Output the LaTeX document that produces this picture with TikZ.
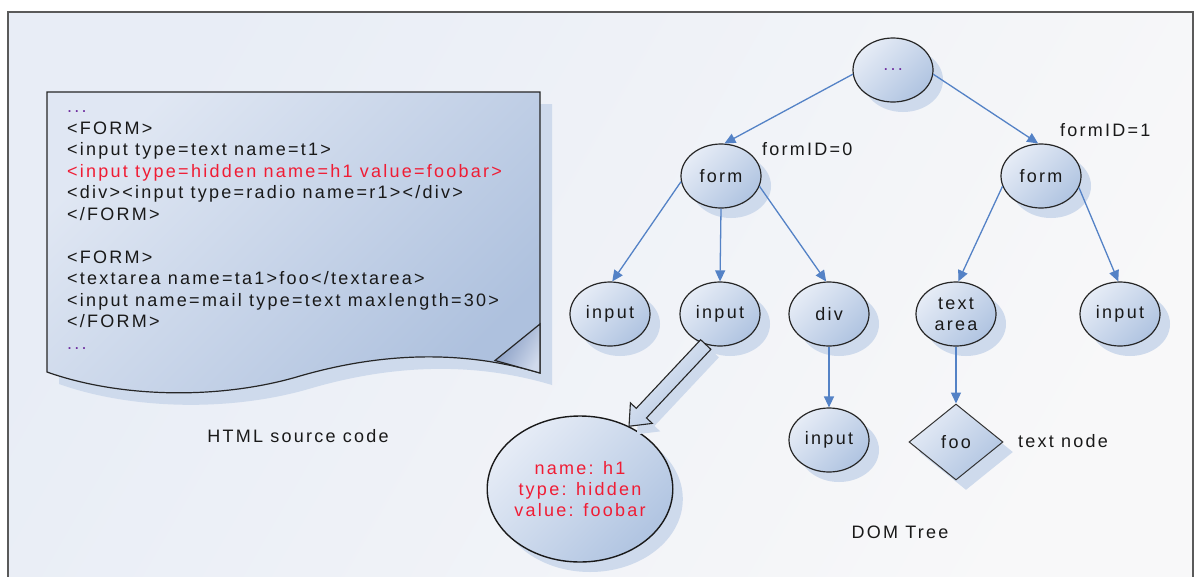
\documentclass[tikz,border=0pt]{standalone}
\usepackage{fontspec}
\setmainfont{Liberation Sans}[LetterSpace=12.5]
\usetikzlibrary{shapes.geometric,arrows.meta,shadows,calc}
\definecolor{bgA}{RGB}{232,237,246}
\definecolor{bgB}{RGB}{248,248,249}
\definecolor{framec}{RGB}{90,90,90}
\definecolor{nodeA}{RGB}{230,236,246}
\definecolor{nodeB}{RGB}{176,196,225}
\definecolor{docA}{RGB}{224,231,243}
\definecolor{docB}{RGB}{174,193,222}
\definecolor{foldA}{RGB}{125,148,190}
\definecolor{foldB}{RGB}{208,218,236}
\definecolor{shadowc}{RGB}{206,218,236}
\definecolor{arrowc}{RGB}{84,130,198}
\definecolor{redc}{RGB}{240,28,52}
\definecolor{dotc}{RGB}{112,48,160}
\definecolor{textc}{RGB}{25,25,25}
\begin{document}
\begin{tikzpicture}[x=1pt,y=-1pt,
  font=\fontsize{18}{21}\selectfont,
  softshadow/.style={drop shadow={shadow xshift=10pt,shadow yshift=-10pt,fill=shadowc,opacity=1}},
  treenode/.style={ellipse,draw=black!85,line width=1.2pt,minimum width=80pt,minimum height=64pt,
    inner sep=0pt,top color=nodeA,bottom color=nodeB,shading angle=45,softshadow,
    align=center,text=textc},
  textdiamond/.style={diamond,draw=black!80,line width=1pt,minimum width=94pt,minimum height=76pt,
    inner sep=0pt,top color=nodeA,bottom color=nodeB,shading angle=45,softshadow,text=textc},
  bignode/.style={ellipse,draw=black!90,line width=1.4pt,minimum width=184pt,minimum height=146pt,
    inner sep=0pt,top color=nodeA,bottom color=nodeB,shading angle=45,softshadow,
    align=center,text=redc},
  treearrow/.style={draw=arrowc,line width=1.3pt,-{Triangle[length=11pt,width=10pt]}},
  codeline/.style={anchor=base west,inner sep=0pt,text=textc},
  lbl/.style={inner sep=0pt,text=textc},
]
\useasboundingbox (0,0) rectangle (1200,576);
\fill[white] (0,0) rectangle (1200,576);
% frame
\draw[draw=framec,line width=1.6pt,top color=bgA,bottom color=bgB,shading angle=60]
  (8,12) rectangle (1193,600);

% document
\path[draw=black!85,line width=1.2pt,top color=docA,bottom color=docB,shading angle=45,
      drop shadow={shadow xshift=12pt,shadow yshift=-12pt,fill=shadowc,opacity=1}]
  (47,92) -- (540,92) -- (540,373)
  .. controls (470,352) and (390,350) .. (300,376)
  .. controls (220,400) and (120,398) .. (47,372) -- cycle;
\path[draw=black!85,line width=1.2pt,left color=foldA,right color=foldB,shading angle=60]
  (540,324) -- (495,360.5) -- (540,373) -- cycle;

\node[codeline,text=dotc] (c0) at (67,112.5) {...};
\node[codeline] (c1) at (67,134) {<FORM>};
\node[codeline] (c2) at (67,155.5) {<input type=text name=t1>};
\node[codeline,text=redc] (c3) at (67,177) {<input type=hidden name=h1 value=foobar>};
\node[codeline] (c4) at (67,198.5) {<div><input type=radio name=r1></div>};
\node[codeline] (c5) at (67,220) {</FORM>};
\node[codeline] (c6) at (67,263) {<FORM>};
\node[codeline] (c7) at (67,284.5) {<textarea name=ta1>foo</textarea>};
\node[codeline] (c8) at (67,306) {<input name=mail type=text maxlength=30>};
\node[codeline] (c9) at (67,327.5) {</FORM>};
\node[codeline,text=dotc] (c10) at (67,349) {...};

\node[lbl] (src) at (298,436) {HTML source code};

% tree
\node[treenode,text=dotc] (root) at (893,70) {...};
\node[treenode] (formL) at (721,176) {form};
\node[treenode] (formR) at (1041,176) {form};
\node[treenode] (in1) at (610,314) {input};
\node[treenode] (in2) at (720,314) {input};
\node[treenode] (div) at (829,314) {div};
\node[treenode] (ta) at (956,314) {text\\area};
\node[treenode] (in5) at (1120,314) {input};
\node[treenode] (in6) at (829,440) {input};
\node[textdiamond] (foo) at (956,442) {foo};
\node[bignode] (big) at (580,489) {name: h1\\type: hidden\\value: foobar};

\draw[treearrow] (root.186) -- (formL.84);
\draw[treearrow] (root.354) -- (formR.95);
\draw[treearrow] (formL.188) -- (in1.86);
\draw[treearrow] (formL.south) -- (in2.north);
\draw[treearrow] (formL.345) -- (div.95);
\draw[treearrow] (formR.195) -- (ta.86);
\draw[treearrow] (formR.343) -- (in5.93);
\draw[treearrow] (div.south) -- (in6.north);
\draw[treearrow] (ta.south) -- (foo.north);

% block arrow from input to attribute node
\coordinate (bt) at (in2.245);
\coordinate (bh) at (big.52);
\coordinate (bb) at ($(bh)!18pt!(bt)$);
\path[draw=black!85,line width=1.1pt,top color=nodeA,bottom color=nodeB,shading angle=45,
      drop shadow={shadow xshift=8pt,shadow yshift=-8pt,fill=shadowc,opacity=1}]
  ($(bt)!7pt!90:(bh)$) -- ($(bb)!7pt!-90:(bt)$) -- ($(bb)!15pt!-90:(bt)$) -- (bh)
  -- ($(bb)!15pt!90:(bt)$) -- ($(bb)!7pt!90:(bt)$) -- ($(bt)!7pt!-90:(bh)$) -- cycle;

% labels
\node[lbl,anchor=west] (f0) at (762,149) {formID=0};
\node[lbl,anchor=west] (f1) at (1060,130) {formID=1};
\node[lbl,anchor=west] (tn) at (1018,441) {text node};
\node[lbl] (dom) at (900,532) {DOM Tree};
\end{tikzpicture}
\end{document}
